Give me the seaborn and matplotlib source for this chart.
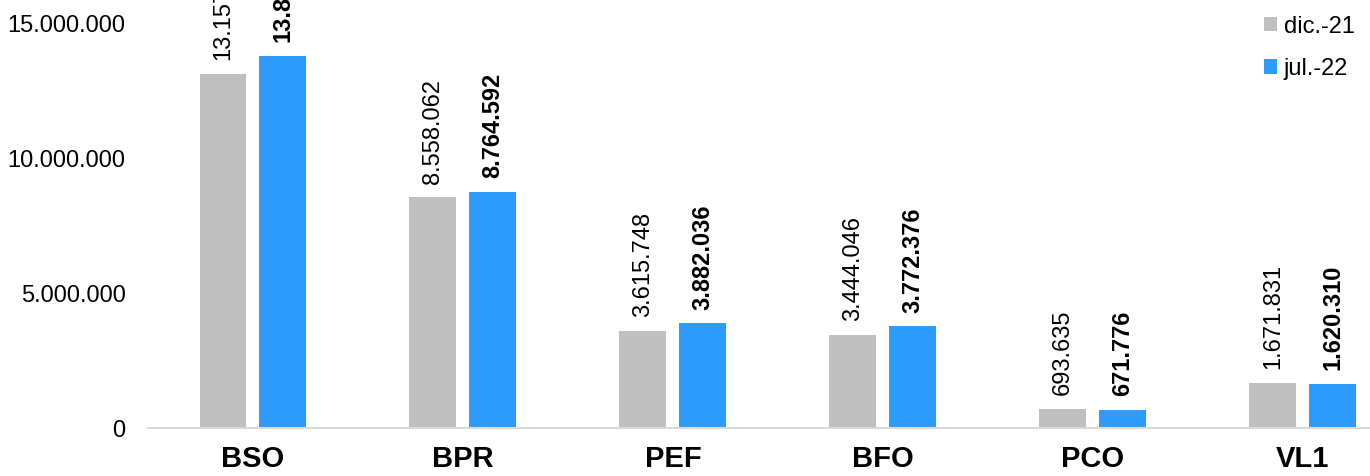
import pandas as pd
import matplotlib.pyplot as plt
import seaborn as sns

# --- chart data ---
categories = ['BSO', 'BPR', 'PEF', 'BFO', 'PCO', 'VL1']
series_names = ['dic.-21', 'jul.-22']
dic_21 = [13157000, 8558062, 3615748, 3444046, 693635, 1671831]
jul_22 = [13812000, 8764592, 3882036, 3772376, 671776, 1620310]
y_ticks = [0, 5000000, 10000000, 15000000]

df = pd.DataFrame({
    'Categoria': categories * 2,
    'Periodo': [series_names[0]] * len(categories) + [series_names[1]] * len(categories),
    'Valor': dic_21 + jul_22,
})

def fmt(v):
    return f"{int(v):,}".replace(',', '.')

plt.rcParams['font.family'] = ['Liberation Sans', 'DejaVu Sans']

fig = plt.figure(figsize=(13.7, 4.76), dpi=100)
ax = fig.add_axes([0.108, 0.1008, 0.892, 0.8992])

sns.barplot(
    data=df, x='Categoria', y='Valor', hue='Periodo',
    palette=['#BFBFBF', '#2E9BFF'], width=0.571, gap=0.217,
    saturation=1, ax=ax, legend=True
)

# value labels, rotated; second series bold
for i, cont in enumerate(ax.containers):
    ax.bar_label(cont, labels=[fmt(v) for v in cont.datavalues],
                 rotation=90, padding=10, fontsize=17,
                 fontweight='bold' if i == 1 else 'normal', clip_on=False)

ax.set_ylim(0, 15890000)
ax.set_xlim(-0.5, 5.32)
ax.set_yticks(y_ticks)
ax.set_yticklabels([fmt(t) for t in y_ticks], fontsize=17)
ax.tick_params(axis='both', length=0)
ax.tick_params(axis='y', pad=16)
ax.tick_params(axis='x', pad=12)
for lab in ax.get_xticklabels():
    lab.set_fontsize(21)
    lab.set_fontweight('bold')
ax.set_xlabel('')
ax.set_ylabel('')

for s in ['top', 'right', 'left']:
    ax.spines[s].set_visible(False)
ax.spines['bottom'].set_color('#D9D9D9')
ax.spines['bottom'].set_linewidth(1.5)

handles, labels = ax.get_legend_handles_labels()
ax.legend(handles, labels, loc='upper right', bbox_to_anchor=(1.005, 1.013),
          frameon=False, fontsize=17, handlelength=0.55, handleheight=0.55,
          handletextpad=0.3, labelspacing=0.85)

fig.savefig('out.png', dpi=100)
